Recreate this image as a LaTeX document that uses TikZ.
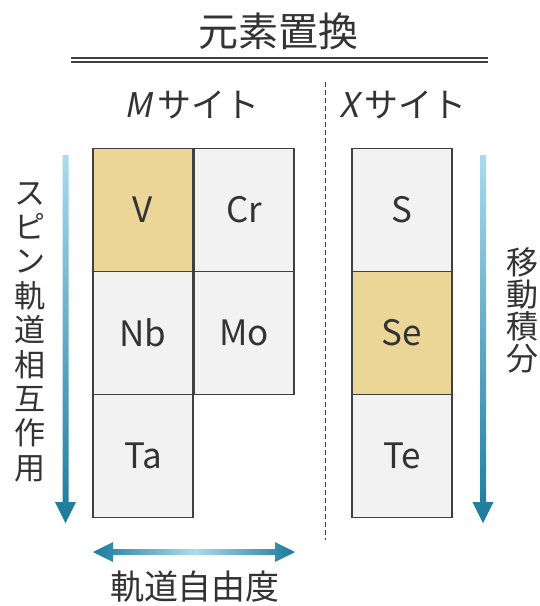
\documentclass[tikz,border=0pt]{standalone}
\usepackage{fontspec}
\setmainfont{Noto Sans CJK JP}
\newfontfamily\slfont[FakeSlant=0.2]{Noto Sans CJK JP}
\usetikzlibrary{calc}
\definecolor{txt}{HTML}{333333}
\definecolor{edge}{HTML}{404040}
\definecolor{gold}{HTML}{EBD698}
\definecolor{cell}{HTML}{F2F2F2}
\definecolor{arlight}{HTML}{A9DBEC}
\definecolor{ardark}{HTML}{1C7A9C}
\tikzset{
  elem/.style={draw=edge, line width=1.2pt, minimum width=100pt, minimum height=123pt, inner sep=0pt, text=txt, font=\fontsize{35}{40}\selectfont},
  hot/.style={elem, fill=gold},
  cold/.style={elem, fill=cell},
  lab/.style={text=txt, inner sep=0pt, font=\fontsize{30}{36}\selectfont},
}
\begin{document}
\begin{tikzpicture}[x=1pt,y=-1pt]
\useasboundingbox (0,0) rectangle (540,606);
% title
\node[lab, font=\fontsize{40}{44}\selectfont] (title) at (278,31) {元素置換};
\draw[edge, line width=1.4pt] (71,58) -- (488,58);
\draw[edge, line width=1.4pt] (71,62) -- (488,62);
% site labels
\node[lab, font=\fontsize{34}{38}\selectfont] (msite) at (192,105) {{\slfont M}\,サイト};
\node[lab, font=\fontsize{34}{38}\selectfont] (xsite) at (403,105) {{\slfont X}\,サイト};
\draw[edge, line width=1pt, dashed, dash pattern=on 5pt off 3pt] (325,82) -- (325,540);
% M site cells
\node[hot]  (V)  at (143,210) {V};
\node[cold] (Cr) at (244,210) {Cr};
\node[cold] (Nb) at (143,333) {Nb};
\node[cold] (Mo) at (244,333) {Mo};
\node[cold] (Ta) at (143,456) {Ta};
% X site cells
\node[cold] (S)  at (402,210) {S};
\node[hot]  (Se) at (402,333) {Se};
\node[cold] (Te) at (402,456) {Te};
% left arrow
\shade[top color=arlight, bottom color=ardark]
  (62.5,155) -- (68.5,155) -- (68.5,502) -- (76,502) -- (65.5,523) -- (55,502) -- (62.5,502) -- cycle;
\node[lab, align=center, font=\fontsize{31}{34.4}\selectfont] (soc) at (30,332) {ス\\ピ\\ン\\軌\\道\\相\\互\\作\\用};
% right arrow
\shade[top color=arlight, bottom color=ardark]
  (480,155) -- (486,155) -- (486,502) -- (493.5,502) -- (483,523) -- (472.5,502) -- (480,502) -- cycle;
\node[lab, align=center, font=\fontsize{32}{32}\selectfont] (hop) at (522,310) {移\\動\\積\\分};
% bottom arrow
\shade[left color=ardark, right color=ardark, middle color=arlight]
  (93,552) -- (113,542) -- (113,549) -- (275,549) -- (275,542) -- (295,552) -- (275,562) -- (275,555) -- (113,555) -- (113,562) -- cycle;
\node[lab, font=\fontsize{34}{38}\selectfont] (orb) at (195,587) {軌道自由度};
\end{tikzpicture}
\end{document}
